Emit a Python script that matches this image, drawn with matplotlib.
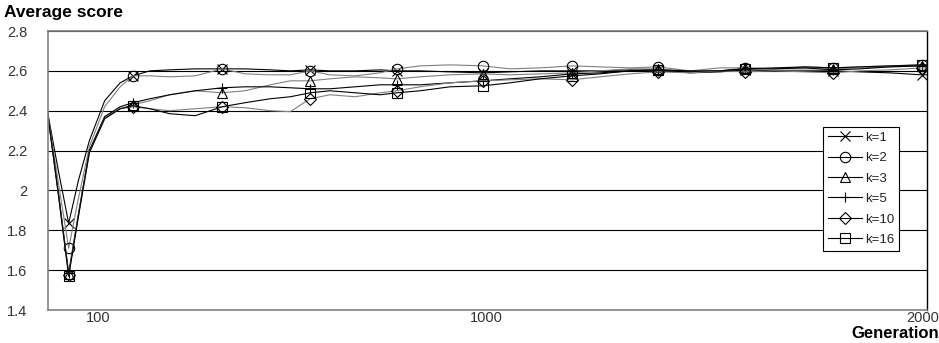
import matplotlib
matplotlib.use("Agg")
import matplotlib.pyplot as plt
from matplotlib.ticker import FixedLocator, NullLocator

plt.rcParams['font.family'] = ['Liberation Sans', 'DejaVu Sans']

generations = [74, 79, 84, 89, 95, 104, 114, 123, 136, 153, 178, 209, 239, 278, 313,
               352, 396, 460, 533, 590, 676, 808, 982, 1153, 1378, 1666, 1967, 2350,
               2775, 3357, 4010, 4651, 5556, 6641, 7840, 9204, 11000, 13295, 13700]

k1 = [2.40, 2.10, 1.835, 2.05, 2.25, 2.45, 2.54, 2.575, 2.60, 2.605, 2.61, 2.61, 2.61,
      2.605, 2.60, 2.605, 2.60, 2.60, 2.605, 2.60, 2.60, 2.595, 2.59, 2.595, 2.60, 2.60,
      2.60, 2.605, 2.605, 2.59, 2.595, 2.605, 2.60, 2.60, 2.60, 2.595, 2.59, 2.58, 2.58]
k2 = [2.40, 2.04, 1.71, 1.96, 2.22, 2.42, 2.52, 2.575, 2.575, 2.57, 2.575, 2.61, 2.585,
      2.58, 2.58, 2.60, 2.58, 2.575, 2.59, 2.61, 2.625, 2.63, 2.625, 2.61, 2.615, 2.625,
      2.62, 2.615, 2.62, 2.60, 2.615, 2.615, 2.61, 2.62, 2.615, 2.62, 2.625, 2.63, 2.63]
k3 = [2.40, 1.99, 1.58, 1.88, 2.20, 2.37, 2.41, 2.43, 2.45, 2.48, 2.50, 2.49, 2.50,
      2.53, 2.55, 2.55, 2.56, 2.57, 2.565, 2.56, 2.57, 2.58, 2.585, 2.58, 2.585, 2.59,
      2.60, 2.61, 2.61, 2.595, 2.60, 2.615, 2.61, 2.61, 2.61, 2.615, 2.62, 2.625, 2.625]
k5 = [2.40, 1.99, 1.585, 1.88, 2.20, 2.37, 2.42, 2.44, 2.46, 2.48, 2.50, 2.515, 2.52,
      2.52, 2.515, 2.51, 2.51, 2.52, 2.53, 2.53, 2.53, 2.54, 2.55, 2.56, 2.57, 2.585,
      2.59, 2.60, 2.60, 2.595, 2.60, 2.61, 2.61, 2.615, 2.605, 2.61, 2.62, 2.625, 2.625]
k10 = [2.40, 1.98, 1.575, 1.87, 2.19, 2.36, 2.41, 2.42, 2.41, 2.40, 2.41, 2.42, 2.415,
       2.40, 2.395, 2.46, 2.48, 2.47, 2.49, 2.50, 2.52, 2.54, 2.55, 2.555, 2.56, 2.555,
       2.57, 2.585, 2.595, 2.59, 2.60, 2.595, 2.60, 2.595, 2.59, 2.60, 2.605, 2.615, 2.615]
k16 = [2.40, 1.98, 1.57, 1.87, 2.19, 2.36, 2.41, 2.425, 2.41, 2.385, 2.375, 2.42, 2.44,
       2.46, 2.47, 2.49, 2.50, 2.49, 2.48, 2.49, 2.50, 2.52, 2.525, 2.54, 2.56, 2.575,
       2.585, 2.60, 2.605, 2.60, 2.60, 2.61, 2.615, 2.62, 2.615, 2.62, 2.625, 2.63, 2.63]

series_labels = ['k=1', 'k=2', 'k=3', 'k=5', 'k=10', 'k=16']
series_values = [k1, k2, k3, k5, k10, k16]
markers = ['x', 'o', '^', '+', 'D', 's']
colors = ['black', '#808080', '#808080', 'black', '#808080', 'black']
marker_idx = [2, 7, 11, 15, 19, 22, 25, 28, 31, 34, 37]

y_ticks = [1.4, 1.6, 1.8, 2.0, 2.2, 2.4, 2.6, 2.8]
y_ticklabels = ['1.4', '1.6', '1.8', '2', '2.2', '2.4', '2.6', '2.8']
x_ticks = [100, 1000, 13700]
x_ticklabels = ['100', '1000', '20000']

fig = plt.figure(figsize=(9.39, 3.43), dpi=100)
ax = fig.add_axes([48/939, 33/343, 879/939, 279/343])

for lab, vals, m, c in zip(series_labels, series_values, markers, colors):
    ms = 6 if m == 'D' else 7.5
    ax.plot(generations, vals, color=c, lw=0.8, marker=m, markevery=marker_idx,
            markersize=ms, markerfacecolor='none', markeredgecolor='black',
            markeredgewidth=0.8, label=lab)

ax.set_xscale('log')
ax.set_xlim(74.3, 13700)
ax.set_ylim(1.4, 2.8)
ax.xaxis.set_major_locator(FixedLocator(x_ticks))
ax.set_xticklabels(x_ticklabels)
ax.xaxis.set_minor_locator(NullLocator())
ax.set_yticks(y_ticks)
ax.set_yticklabels(y_ticklabels)
ax.tick_params(axis='both', length=0, labelsize=10.5, colors='#333333')
ax.tick_params(axis='y', pad=15)
ax.tick_params(axis='x', pad=1)
ax.grid(axis='y', color='black', lw=0.8)
ax.set_axisbelow(True)
for s in ['left', 'bottom', 'top']:
    ax.spines[s].set_color('#808080')
    ax.spines[s].set_linewidth(1.2)
ax.spines['right'].set_color('black')
ax.spines['right'].set_linewidth(1.0)

fig.text(4/939, 1 - 13/343, 'Average score', fontsize=12.5, fontweight='bold',
         ha='left', va='center')
fig.text(939/939, 1 - 333/343, 'Generation', fontsize=12, fontweight='bold',
         ha='right', va='center')

leg = ax.legend(loc='upper left', bbox_to_anchor=((823 - 48)/879, 1 - (127 - 31)/279),
                bbox_transform=ax.transAxes, frameon=True, fancybox=False,
                framealpha=1, edgecolor='black', fontsize=9.5, handlelength=2.6,
                labelspacing=0.62, borderpad=0.35, handletextpad=0.25,
                borderaxespad=0)
leg.get_frame().set_linewidth(0.8)
for line in leg.get_lines():
    line.set_color('black')
for t in leg.get_texts():
    t.set_color('#222222')

fig.savefig('out.png', dpi=100)
